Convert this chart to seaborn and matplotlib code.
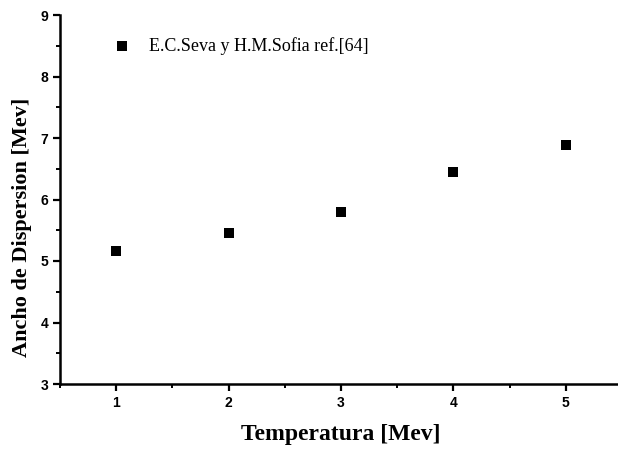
import matplotlib
matplotlib.use("Agg")
import matplotlib.pyplot as plt
from matplotlib.ticker import MultipleLocator
import seaborn as sns
import pandas as pd

# datos
temperatura = [1, 2, 3, 4, 5]
ancho = [5.17, 5.45, 5.80, 6.45, 6.89]
serie = "E.C.Seva y H.M.Sofia ref.[64]"

df = pd.DataFrame({"T": temperatura, "W": ancho})

sns.set_style("ticks")
plt.rcParams["font.family"] = ["Liberation Serif", "DejaVu Serif"]
plt.rcParams["text.color"] = "black"
plt.rcParams["axes.labelcolor"] = "black"
plt.rcParams["xtick.color"] = "black"
plt.rcParams["ytick.color"] = "black"

fig = plt.figure(figsize=(6.18, 4.49), dpi=100)
ax = fig.add_axes([60 / 618, 65 / 449, 562 / 618, 369 / 449])

sns.scatterplot(data=df, x="T", y="W", marker="s", s=42, color="black",
                edgecolor="black", linewidth=0, label=serie, ax=ax)

ax.set_xlim(0.5, 5.5)
ax.set_ylim(3, 9)
ax.xaxis.set_major_locator(MultipleLocator(1))
ax.xaxis.set_minor_locator(MultipleLocator(0.5))
ax.yaxis.set_major_locator(MultipleLocator(1))
ax.yaxis.set_minor_locator(MultipleLocator(0.5))
ax.tick_params(which="major", direction="out", length=5, width=1.6)
ax.tick_params(which="minor", direction="out", length=3, width=1.4)
for lab in ax.get_xticklabels() + ax.get_yticklabels():
    lab.set_family("Liberation Sans")
    lab.set_weight("bold")
    lab.set_fontsize(10)

for side in ["top", "right"]:
    ax.spines[side].set_visible(False)
for side in ["left", "bottom"]:
    ax.spines[side].set_linewidth(1.8)
    ax.spines[side].set_color("black")

ax.set_xlabel("Temperatura [Mev]", fontsize=17, fontweight="bold", labelpad=10)
ax.set_ylabel("Ancho de Dispersion [Mev]", fontsize=16, fontweight="bold")
ax.yaxis.set_label_coords(-0.05, 0.425)

ax.legend(loc="upper left", bbox_to_anchor=(0.05, 0.985), frameon=False,
          fontsize=13, handletextpad=0.5, markerscale=1.0)

fig.savefig("out.png", dpi=100)
